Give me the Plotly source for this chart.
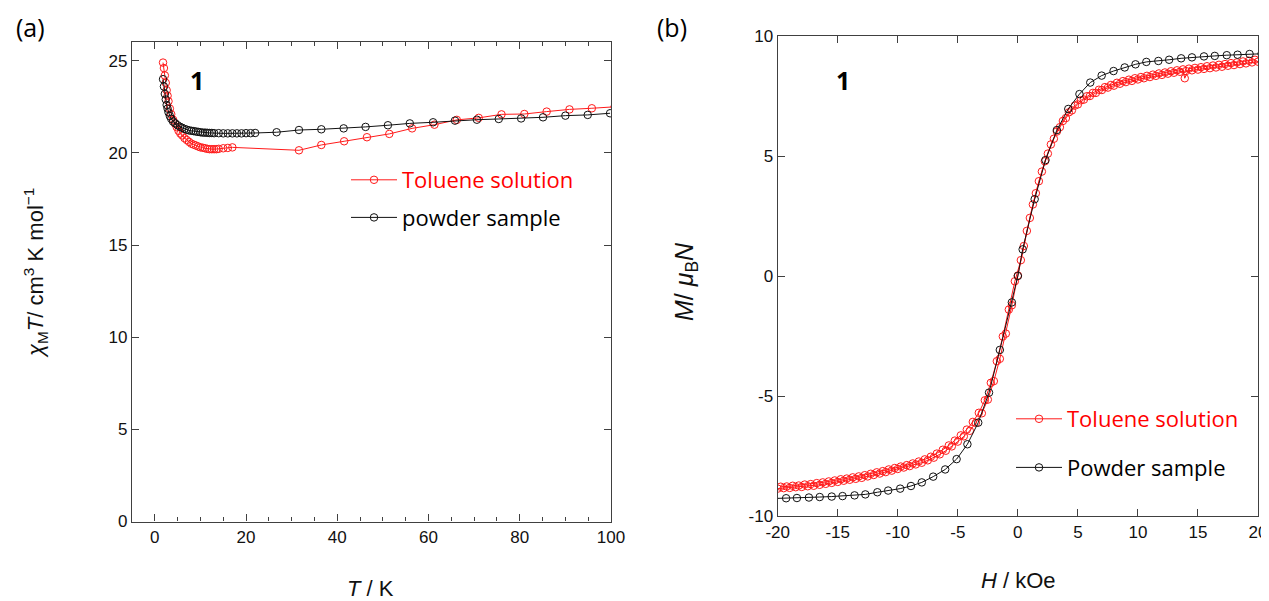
import plotly.graph_objects as go

# ---------------- Panel (a): chi_M T vs T ----------------
tol_T = [1.8, 2.0, 2.2, 2.4, 2.6, 2.8, 3.0, 3.3, 3.6, 4.0, 4.4, 4.8, 5.2, 5.6, 6.0, 6.5, 7.0,
         7.5, 8.0, 8.5, 9.0, 9.5, 10, 10.5, 11, 11.5, 12, 12.5, 13, 13.5, 14, 15, 16, 17,
         31.6, 36.5, 41.5, 46.5, 51.4, 56.4, 61.3, 66.2, 71, 76, 81, 85.9, 90.9, 95.8, 100.8]
tol_chiT = [24.9, 24.6, 24.2, 23.8, 23.4, 23.1, 22.8, 22.4, 22.1, 21.8, 21.6, 21.4, 21.2, 21.05,
            20.95, 20.8, 20.7, 20.6, 20.5, 20.45, 20.4, 20.35, 20.3, 20.28, 20.25, 20.22, 20.2,
            20.2, 20.2, 20.2, 20.22, 20.25, 20.27, 20.3,
            20.14, 20.43, 20.63, 20.85, 21.03, 21.33, 21.53, 21.79, 21.9, 22.09, 22.11, 22.24,
            22.36, 22.42, 22.5]

pow_T = [1.8, 2.0, 2.2, 2.4, 2.6, 2.8, 3.0, 3.3, 3.6, 4.0, 4.5, 5, 5.5, 6, 6.5, 7, 7.5, 8, 8.5,
         9, 9.5, 10, 10.5, 11, 11.5, 12, 12.5, 13, 14, 15, 16, 17, 18, 19, 20, 21, 22,
         26.7, 31.6, 36.5, 41.4, 46.2, 51.1, 55.9, 61, 65.8, 70.6, 75.4, 80.3, 85.1, 90, 94.9, 99.8]
pow_chiT = [24.0, 23.6, 23.2, 22.9, 22.6, 22.4, 22.2, 22.0, 21.85, 21.7, 21.6, 21.5, 21.42, 21.36,
            21.3, 21.26, 21.22, 21.2, 21.18, 21.16, 21.14, 21.12, 21.1, 21.1, 21.09, 21.08, 21.08,
            21.07, 21.07, 21.06, 21.06, 21.06, 21.06, 21.06, 21.07, 21.07, 21.08,
            21.12, 21.24, 21.28, 21.33, 21.41, 21.5, 21.6, 21.66, 21.75, 21.8, 21.84, 21.87,
            21.93, 22.02, 22.06, 22.15]

# ---------------- Panel (b): M vs H ----------------
tol_H_up = [-20, -19.5, -19, -18.5, -18, -17.5, -17, -16.5, -16, -15.5, -15, -14.5, -14, -13.5,
            -13, -12.5, -12, -11.5, -11, -10.5, -10, -9.5, -9, -8.5, -8, -7.5, -7, -6.5, -6,
            -5.5, -5, -4.5, -4, -3.5, -3, -2.5, -2, -1.5, -1, -0.5, 0, 0.5, 1, 1.5, 2, 2.5, 3,
            3.5, 4, 4.5, 5, 5.5, 6, 6.5, 7, 7.5, 8, 8.5, 9, 9.5, 10, 10.5, 11, 11.5, 12, 12.5,
            13, 13.5, 14, 14.5, 15, 15.5, 16, 16.5, 17, 17.5, 18, 18.5, 19, 19.5, 20]
tol_M_up = [-8.86, -8.84, -8.83, -8.80, -8.79, -8.76, -8.74, -8.70, -8.66, -8.62, -8.58, -8.53,
            -8.49, -8.45, -8.41, -8.35, -8.29, -8.23, -8.17, -8.11, -8.04, -7.98, -7.92, -7.85,
            -7.78, -7.68, -7.57, -7.43, -7.28, -7.10, -6.90, -6.68, -6.45, -6.12, -5.72, -5.15,
            -4.38, -3.45, -2.40, -1.22, 0.02, 1.25, 2.42, 3.45, 4.35, 5.10, 5.72, 6.20, 6.58,
            6.90, 7.15, 7.35, 7.50, 7.63, 7.75, 7.85, 7.93, 8.01, 8.08, 8.13, 8.19, 8.24, 8.29,
            8.34, 8.38, 8.43, 8.47, 8.51, 8.54, 8.57, 8.60, 8.63, 8.66, 8.69, 8.72, 8.76, 8.79,
            8.83, 8.86, 8.90, 8.93]
tol_H_down = [19.75, 19.25, 18.75, 18.25, 17.75, 17.25, 16.75, 16.25, 15.75, 15.25, 14.75, 14.25,
              13.9, 13.75, 13.25, 12.75, 12.25, 11.75, 11.25, 10.75, 10.25, 9.75, 9.25, 8.75,
              8.25, 7.75, 7.25, 6.75, 6.25, 5.75, 5.25, 4.75, 4.25, 3.75, 3.25, 2.75, 2.25, 1.75,
              1.25, 0.75, 0.25, -0.25, -0.75, -1.25, -1.75, -2.25, -2.75, -3.25, -3.75, -4.25,
              -4.75, -5.25, -5.75, -6.25, -6.75, -7.25, -7.75, -8.25, -8.75, -9.25, -9.75,
              -10.25, -10.75, -11.25, -11.75, -12.25, -12.75, -13.25, -13.75, -14.25, -14.75,
              -15.25, -15.75, -16.25, -16.75, -17.25, -17.75, -18.25, -18.75, -19.25, -19.75]
tol_M_down = [9.01, 8.97, 8.94, 8.90, 8.87, 8.83, 8.80, 8.77, 8.74, 8.70, 8.67, 8.64, 8.24, 8.61,
              8.57, 8.53, 8.48, 8.44, 8.39, 8.34, 8.29, 8.24, 8.18, 8.12, 8.05, 7.96, 7.87, 7.76,
              7.63, 7.49, 7.32, 7.10, 6.82, 6.46, 6.02, 5.48, 4.78, 3.95, 2.98, 1.88, 0.66,
              -0.22, -1.40, -2.52, -3.55, -4.45, -5.18, -5.70, -6.08, -6.40, -6.64, -6.86, -7.06,
              -7.24, -7.40, -7.53, -7.64, -7.73, -7.81, -7.88, -7.94, -8.00, -8.06, -8.13, -8.18,
              -8.24, -8.30, -8.35, -8.39, -8.44, -8.47, -8.52, -8.56, -8.60, -8.63, -8.67, -8.69,
              -8.73, -8.74, -8.77, -8.78]
tol_H = tol_H_up + tol_H_down
tol_M = tol_M_up + tol_M_down

pow_H = [-20.3, -19.3, -18.4, -17.4, -16.5, -15.5, -14.6, -13.6, -12.7, -11.7, -10.8, -9.8, -8.9,
         -8.0, -7.05, -6.05, -5.1, -4.2, -3.3, -2.4, -1.5, -0.5, 0.0, 0.4, 1.4, 2.3, 3.25, 4.2,
         5.13, 6.03, 6.98, 7.97, 8.9, 9.8, 10.7, 11.7, 12.6, 13.6, 14.5, 15.5, 16.4, 17.4, 18.3,
         19.3, 20.3]
pow_M = [-9.27, -9.26, -9.25, -9.23, -9.21, -9.19, -9.17, -9.14, -9.10, -9.01, -8.94, -8.86,
         -8.75, -8.6, -8.36, -8.06, -7.63, -7.01, -6.11, -4.86, -3.08, -1.1, 0.0, 1.11, 3.2,
         4.83, 6.08, 6.96, 7.58, 8.06, 8.35, 8.54, 8.69, 8.82, 8.92, 8.96, 9.01, 9.07, 9.11,
         9.15, 9.17, 9.2, 9.22, 9.25, 9.26]

# tick labels (hyphen-minus as in the reference)
a_xticks = [0, 20, 40, 60, 80, 100]
a_yticks = [0, 5, 10, 15, 20, 25]
b_xticks = [-20, -15, -10, -5, 0, 5, 10, 15, 20]
b_yticks = [-10, -5, 0, 5, 10]

RED = "#ff1a1a"
BLACK = "#111111"
AX = "#404040"
SANS = "Liberation Sans"
TICKFONT = dict(family=SANS, size=17, color="#111111")
LEGFONT = "Open Sans"

# the page body has an 8 px margin: the figure sits 8 px in from the window's top-left corner
W, H, OFF = 1261, 593, 8


def px(x):
    return (x - OFF) / W


def py(y):
    return 1 - (y - OFF) / H


fig = go.Figure()

mk = lambda c: dict(symbol="circle-open", size=7.5, color=c, line=dict(width=1, color=c))

fig.add_trace(go.Scatter(x=tol_T, y=tol_chiT, mode="lines+markers", xaxis="x", yaxis="y",
                         line=dict(color=RED, width=1), marker=mk(RED),
                         name="<span style='color:#ff0000'>Toluene solution</span>",
                         legend="legend", legendgroup="a1"))
fig.add_trace(go.Scatter(x=pow_T, y=pow_chiT, mode="lines+markers", xaxis="x", yaxis="y",
                         line=dict(color=BLACK, width=1), marker=mk(BLACK),
                         name="powder sample", legend="legend", legendgroup="a2"))
fig.add_trace(go.Scatter(x=tol_H, y=tol_M, mode="lines+markers", xaxis="x2", yaxis="y2",
                         line=dict(color=RED, width=1), marker=mk(RED),
                         name="<span style='color:#ff0000'>Toluene solution</span>",
                         legend="legend2", legendgroup="b1"))
fig.add_trace(go.Scatter(x=pow_H, y=pow_M, mode="lines+markers", xaxis="x2", yaxis="y2",
                         line=dict(color=BLACK, width=1), marker=mk(BLACK),
                         name="Powder sample", legend="legend2", legendgroup="b2"))

axis_common = dict(showline=True, linecolor=AX, linewidth=1.3, mirror="ticks", ticks="inside",
                   tickcolor=AX, tickwidth=1.2, ticklen=7, showgrid=False, zeroline=False,
                   tickfont=TICKFONT, automargin=False, tickmode="array")


def lab(v):
    return [str(t) for t in v]


fig.update_layout(
    template="none",
    width=W, height=H, autosize=False,
    margin=dict(l=0, r=0, t=0, b=0, pad=0),
    paper_bgcolor="white", plot_bgcolor="white",
    font=dict(family=SANS, color="#111111"),
    xaxis=dict(domain=[px(132), px(611)], range=[-5, 100], tickvals=a_xticks, ticktext=lab(a_xticks),
               minor=dict(dtick=5, tick0=0, ticks="inside", ticklen=4, tickcolor=AX, showgrid=False),
               anchor="y", **axis_common),
    yaxis=dict(domain=[py(521.5), py(42.3)], range=[0, 26], tickvals=a_yticks, ticktext=lab(a_yticks),
               anchor="x", **axis_common),
    xaxis2=dict(domain=[px(777.7), px(1258)], range=[-20, 20], tickvals=b_xticks, ticktext=lab(b_xticks),
                anchor="y2", **axis_common),
    yaxis2=dict(domain=[py(516), py(36)], range=[-10, 10], tickvals=b_yticks, ticktext=lab(b_yticks),
                anchor="x2", **axis_common),
    legend=dict(x=px(346), y=py(159), xanchor="left", yanchor="top", bgcolor="rgba(0,0,0,0)",
                font=dict(family=LEGFONT, size=22, color="#000000"), itemwidth=46,
                traceorder="grouped", tracegroupgap=6),
    legend2=dict(x=px(1011), y=py(398), xanchor="left", yanchor="top", bgcolor="rgba(0,0,0,0)",
                 font=dict(family=LEGFONT, size=22, color="#000000"), itemwidth=46,
                 traceorder="grouped", tracegroupgap=17),
    showlegend=True,
)

TITLEFONT = dict(family=SANS, size=22, color="#111111")
ann = [
    dict(text="(a)", x=px(30), y=py(27), font=dict(family=LEGFONT, size=25, color="#000")),
    dict(text="(b)", x=px(672), y=py(27), font=dict(family=LEGFONT, size=25, color="#000")),
    dict(text="<b>1</b>", x=px(197), y=py(80), font=dict(family=LEGFONT, size=25, color="#000")),
    dict(text="<b>1</b>", x=px(843), y=py(80), font=dict(family=LEGFONT, size=25, color="#000")),
    dict(text="<i>χ</i><sub>M</sub><i>T</i>/ cm<sup>3</sup> K mol<sup>−1</sup>", x=px(36),
         y=py(273), textangle=-90, font=TITLEFONT),
    dict(text="<i>T</i> / K", x=px(371), y=py(588), font=TITLEFONT),
    dict(text="<i>M</i>/ <i>μ</i><sub>B</sub><i>N</i>", x=px(686), y=py(282),
         textangle=-90, font=dict(family=SANS, size=25, color="#111111")),
    dict(text="<i>H</i> / kOe", x=px(1018), y=py(580), font=TITLEFONT),
]
for a in ann:
    a.update(xref="paper", yref="paper", showarrow=False, xanchor="center", yanchor="middle")
fig.update_layout(annotations=ann)

fig.write_html("out.html")
